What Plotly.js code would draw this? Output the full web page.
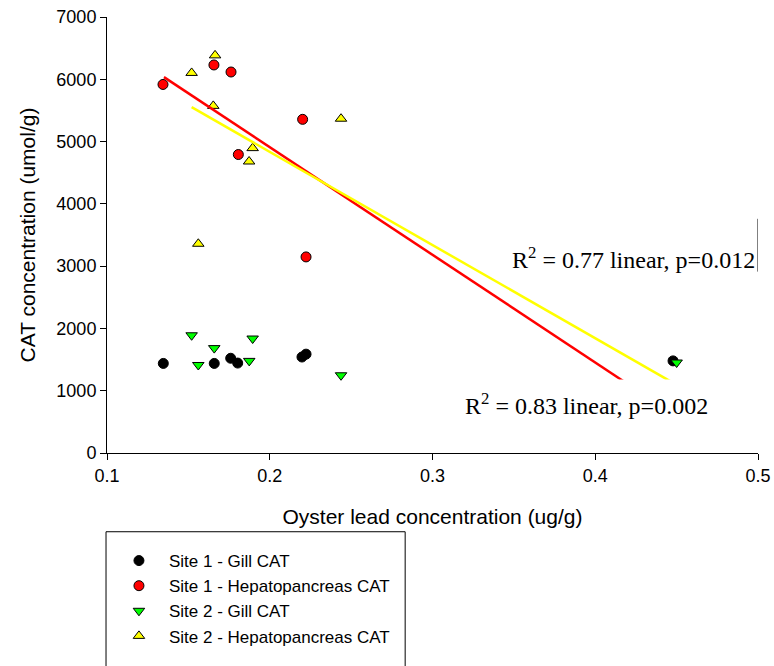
<!DOCTYPE html>
<html>
<head>
<meta charset="utf-8">
<script src="https://cdn.plot.ly/plotly-3.0.1.min.js"></script>
<style>html,body{margin:0;padding:0;background:#fff;}#chart{width:774px;height:666px;}</style>
</head>
<body>
<div id="chart"></div>
<script>
// Site 1 - Gill CAT
var s1GillX = [0.1346, 0.1659, 0.1760, 0.1803, 0.2198, 0.2223, 0.4478];
var s1GillY = [1438, 1438, 1521, 1444, 1541, 1587, 1479];
// Site 1 - Hepatopancreas CAT
var s1HepX = [0.1344, 0.1657, 0.1762, 0.1807, 0.2202, 0.2223];
var s1HepY = [5917, 6230, 6117, 4792, 5357, 3148];
// Site 2 - Gill CAT
var s2GillX = [0.1520, 0.1561, 0.1659, 0.1874, 0.1895, 0.2438, 0.4500];
var s2GillY = [1890, 1413, 1684, 1479, 1838, 1248, 1453];
// Site 2 - Hepatopancreas CAT
var s2HepX = [0.1520, 0.1561, 0.1653, 0.1664, 0.1873, 0.1895, 0.2438];
var s2HepY = [6102, 3359, 5573, 6384, 4680, 4895, 5367];
// Regression lines
var fit1X = [0.135, 0.448];
var fit1Y = [6035, 623];
var fit2X = [0.152, 0.450];
var fit2Y = [5552, 1095];

var seriesNames = ["Site 1 - Gill CAT", "Site 1 - Hepatopancreas CAT", "Site 2 - Gill CAT", "Site 2 - Hepatopancreas CAT"];
var xTickVals = [0.1, 0.2, 0.3, 0.4, 0.5];
var xTickText = ["0.1", "0.2", "0.3", "0.4", "0.5"];
var yTickVals = [0, 1000, 2000, 3000, 4000, 5000, 6000, 7000];
var yTickText = ["0", "1000", "2000", "3000", "4000", "5000", "6000", "7000"];
var annoTexts = ["R<sup>2</sup> = 0.77 linear, p=0.012", "R<sup>2</sup> = 0.83 linear, p=0.002"];

var sans = "Liberation Sans, Arial, sans-serif";
var serif = "Liberation Serif, Times New Roman, serif";

var traces = [
  {x: s1GillX, y: s1GillY, name: seriesNames[0], type: "scatter", mode: "markers",
   marker: {symbol: "circle", size: 10, color: "#000000", line: {color: "#000000", width: 1}}},
  {x: s1HepX, y: s1HepY, name: seriesNames[1], type: "scatter", mode: "markers",
   marker: {symbol: "circle", size: 10, color: "#ff0000", line: {color: "#000000", width: 1}}},
  {x: s2GillX, y: s2GillY, name: seriesNames[2], type: "scatter", mode: "markers",
   marker: {symbol: "triangle-down", size: 10, color: "#00ff00", line: {color: "#000000", width: 1}}},
  {x: s2HepX, y: s2HepY, name: seriesNames[3], type: "scatter", mode: "markers",
   marker: {symbol: "triangle-up", size: 10, color: "#ffff00", line: {color: "#000000", width: 1}}},
  {x: fit1X, y: fit1Y, type: "scatter", mode: "lines", showlegend: false, hoverinfo: "skip",
   line: {color: "#ff0000", width: 2.5}},
  {x: fit2X, y: fit2Y, type: "scatter", mode: "lines", showlegend: false, hoverinfo: "skip",
   line: {color: "#ffff00", width: 2.5}}
];

var layout = {
  width: 774, height: 666,
  margin: {l: 107, r: 16, t: 17, b: 195, pad: 0},
  paper_bgcolor: "#ffffff", plot_bgcolor: "#ffffff",
  font: {family: sans, size: 17, color: "#000000"},
  showlegend: true,
  xaxis: {
    range: [0.1, 0.5], tickvals: xTickVals, ticktext: xTickText,
    showgrid: false, zeroline: false, showline: true, linecolor: "#000000", linewidth: 1,
    ticks: "outside", ticklen: 6, tickcolor: "#000000", tickwidth: 1,
    tickfont: {family: sans, size: 18, color: "#000000"},
    title: {text: "Oyster lead concentration (ug/g)", font: {family: sans, size: 21, color: "#000000"}, standoff: 24}
  },
  yaxis: {
    range: [0, 7000], tickvals: yTickVals, ticktext: yTickText,
    showgrid: false, zeroline: false, showline: true, linecolor: "#000000", linewidth: 1,
    ticks: "outside", ticklen: 6, tickcolor: "#000000", tickwidth: 1,
    tickfont: {family: sans, size: 18, color: "#000000"},
    title: {text: "CAT concentration (umol/g)", font: {family: sans, size: 21, color: "#000000"}, standoff: 15}
  },
  legend: {
    x: 0.003, xanchor: "left", y: -0.2065, yanchor: "top",
    bgcolor: "rgba(0,0,0,0)", borderwidth: 0,
    itemwidth: 50, tracegroupgap: 0,
    font: {family: sans, size: 17, color: "#000000"}
  },
  shapes: [
    {type: "rect", xref: "paper", yref: "paper", x0: -0.0015, x1: 0.458, y0: -0.1806, y1: -0.6,
     line: {color: "#000000", width: 1}, fillcolor: "rgba(0,0,0,0)", layer: "below"},
    {type: "line", xref: "x", yref: "y", x0: 0.5, x1: 0.5, y0: 2912, y1: 3760,
     line: {color: "#000000", width: 1}}
  ],
  annotations: [
    {x: 0.4238, y: 3128, xref: "x", yref: "y", text: annoTexts[0], showarrow: false,
     font: {family: serif, size: 24, color: "#000000"}, bgcolor: "rgba(0,0,0,0)"},
    {x: 0.3946, y: 786, xref: "x", yref: "y", text: annoTexts[1], showarrow: false,
     font: {family: serif, size: 24, color: "#000000"}, bgcolor: "#ffffff", borderpad: 9}
  ]
};

Plotly.newPlot("chart", traces, layout, {displayModeBar: false, staticPlot: true});
</script>
</body>
</html>
